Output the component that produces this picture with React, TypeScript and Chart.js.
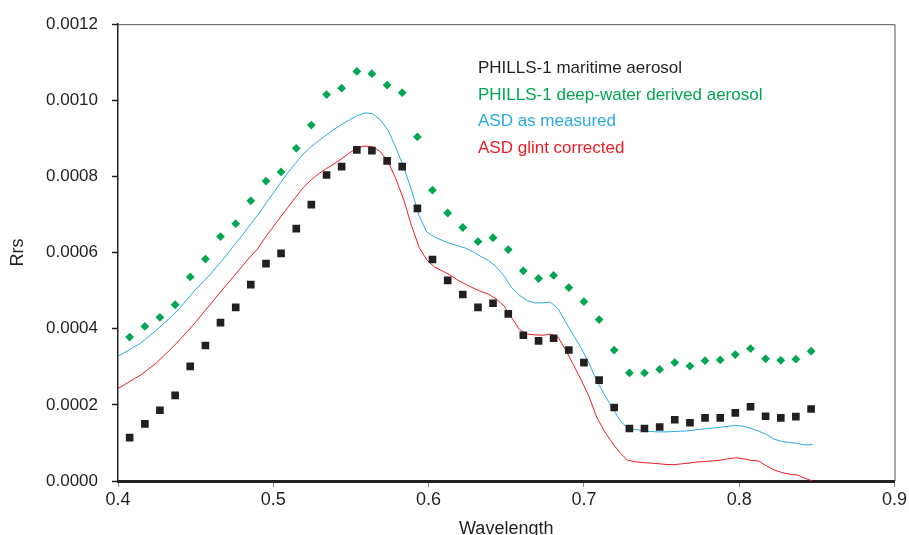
import React, { useEffect, useRef } from "react";
import { Chart, registerables } from "chart.js";

Chart.register(...registerables);

// PHILLS-1 band centres (µm)
const phillsWavelengths = [
  0.4075, 0.4173, 0.4270, 0.4368, 0.4465, 0.4563, 0.4660, 0.4758, 0.4855, 0.4953,
  0.5050, 0.5148, 0.5245, 0.5343, 0.5440, 0.5538, 0.5635, 0.5733, 0.5830, 0.5928,
  0.6025, 0.6123, 0.6220, 0.6318, 0.6415, 0.6513, 0.6610, 0.6708, 0.6805, 0.6903,
  0.7000, 0.7098, 0.7195, 0.7293, 0.7390, 0.7488, 0.7585, 0.7683, 0.7780, 0.7878,
  0.7975, 0.8073, 0.8170, 0.8268, 0.8365, 0.8463,
];

const maritimeAerosol = [
  0.000114, 0.000150, 0.000186, 0.000225, 0.000301, 0.000356, 0.000416, 0.000456, 0.000516, 0.000571,
  0.000598, 0.000663, 0.000726, 0.000804, 0.000826, 0.000870, 0.000868, 0.000841, 0.000826, 0.000716,
  0.000582, 0.000527, 0.000490, 0.000456, 0.000467, 0.000439, 0.000383, 0.000368, 0.000375, 0.000344,
  0.000311, 0.000265, 0.000193, 0.000138, 0.000138, 0.000142, 0.000161, 0.000153, 0.000166, 0.000166,
  0.000179, 0.000195, 0.000170, 0.000166, 0.000169, 0.000189,
];

const deepWaterAerosol = [
  0.000378, 0.000406, 0.000430, 0.000463, 0.000536, 0.000583, 0.000642, 0.000676, 0.000736, 0.000788,
  0.000812, 0.000874, 0.000935, 0.001015, 0.001032, 0.001076, 0.001070, 0.001040, 0.001020, 0.000904,
  0.000764, 0.000704, 0.000666, 0.000629, 0.000639, 0.000608, 0.000552, 0.000532, 0.000540, 0.000508,
  0.000471, 0.000424, 0.000344, 0.000284, 0.000284, 0.000293, 0.000311, 0.000302, 0.000316, 0.000318,
  0.000332, 0.000348, 0.000321, 0.000317, 0.000320, 0.000341,
];

// ASD spectra wavelengths (µm)
const asdWavelengths = [
  0.4000, 0.4050, 0.4099, 0.4149, 0.4199, 0.4249, 0.4298, 0.4348, 0.4398, 0.4447,
  0.4497, 0.4547, 0.4597, 0.4646, 0.4696, 0.4746, 0.4795, 0.4845, 0.4895, 0.4945,
  0.4994, 0.5044, 0.5094, 0.5143, 0.5193, 0.5243, 0.5292, 0.5342, 0.5392, 0.5442,
  0.5491, 0.5541, 0.5591, 0.5640, 0.5690, 0.5740, 0.5790, 0.5839, 0.5889, 0.5939,
  0.5988, 0.6038, 0.6088, 0.6138, 0.6187, 0.6237, 0.6287, 0.6336, 0.6386, 0.6436,
  0.6486, 0.6535, 0.6585, 0.6635, 0.6684, 0.6734, 0.6784, 0.6833, 0.6883, 0.6933,
  0.6983, 0.7032, 0.7082, 0.7132, 0.7181, 0.7231, 0.7281, 0.7331, 0.7380, 0.7430,
  0.7480, 0.7529, 0.7579, 0.7629, 0.7679, 0.7728, 0.7778, 0.7828, 0.7877, 0.7927,
  0.7977, 0.8026, 0.8076, 0.8126, 0.8176, 0.8225, 0.8275, 0.8325, 0.8374, 0.8424,
  0.8474,
];

const asdMeasured = [
  0.000328, 0.000339, 0.000351, 0.000363, 0.000380, 0.000397, 0.000415, 0.000434, 0.000454, 0.000478,
  0.000502, 0.000523, 0.000544, 0.000568, 0.000592, 0.000619, 0.000643, 0.000670, 0.000696, 0.000725,
  0.000753, 0.000782, 0.000810, 0.000835, 0.000859, 0.000878, 0.000894, 0.000909, 0.000924, 0.000937,
  0.000949, 0.000960, 0.000967, 0.000965, 0.000948, 0.000921, 0.000875, 0.000825, 0.000766, 0.000697,
  0.000654, 0.000641, 0.000632, 0.000624, 0.000618, 0.000612, 0.000602, 0.000590, 0.000579, 0.000563,
  0.000538, 0.000508, 0.000488, 0.000474, 0.000468, 0.000468, 0.000470, 0.000453, 0.000417, 0.000383,
  0.000349, 0.000310, 0.000263, 0.000227, 0.000193, 0.000161, 0.000138, 0.000135, 0.000132, 0.000130,
  0.000129, 0.000129, 0.000130, 0.000131, 0.000132, 0.000135, 0.000137, 0.000139, 0.000141, 0.000144,
  0.000146, 0.000144, 0.000138, 0.000131, 0.000122, 0.000110, 0.000104, 0.000101, 0.000099, 0.0000945,
  0.0000958,
];

const asdGlintCorrected = [
  0.000243, 0.000255, 0.000267, 0.000279, 0.000295, 0.000311, 0.000330, 0.000350, 0.000371, 0.000393,
  0.000416, 0.000441, 0.000465, 0.000490, 0.000514, 0.000538, 0.000562, 0.000586, 0.000608, 0.000638,
  0.000665, 0.000692, 0.000719, 0.000745, 0.000771, 0.000791, 0.000807, 0.000821, 0.000833, 0.000847,
  0.000862, 0.000875, 0.000880, 0.000878, 0.000865, 0.000838, 0.000793, 0.000740, 0.000672, 0.000614,
  0.000581, 0.000562, 0.000552, 0.000541, 0.000528, 0.000517, 0.000507, 0.000498, 0.000491, 0.000478,
  0.000460, 0.000429, 0.000398, 0.000386, 0.000384, 0.000383, 0.000386, 0.000378, 0.000344, 0.000305,
  0.000265, 0.000223, 0.000168, 0.000131, 0.000101, 0.0000749, 0.0000545, 0.0000505, 0.0000484, 0.0000471,
  0.0000455, 0.0000435, 0.0000429, 0.0000450, 0.0000471, 0.0000500, 0.0000510, 0.0000526, 0.0000547, 0.0000581,
  0.0000610, 0.0000584, 0.0000542, 0.0000526, 0.0000395, 0.0000290, 0.0000223, 0.0000178, 0.0000157, 0.0000068,
  0.0000000,
];

const seriesLabels = [
  "PHILLS-1 maritime aerosol",
  "PHILLS-1 deep-water derived aerosol",
  "ASD as measured",
  "ASD glint corrected",
];

const FONT = '"Liberation Sans", Arial, Helvetica, sans-serif';
const INK = "#231f20";
const GREEN = "#00a651";
const BLUE = "#29abe2";
const RED = "#ed1c24";
const legendColors = [INK, GREEN, BLUE, RED];

const inlineLegend = {
  id: "inlineLegend",
  afterDraw(chart: any) {
    const { ctx, chartArea } = chart;
    ctx.save();
    ctx.font = `17px ${FONT}`;
    ctx.textAlign = "left";
    ctx.textBaseline = "middle";
    seriesLabels.forEach((label, i) => {
      ctx.fillStyle = legendColors[i];
      ctx.fillText(label, chartArea.left + 360, chartArea.top + 44 + i * 26.8);
    });
    ctx.restore();
  },
};

const frame = {
  id: "frame",
  beforeDatasetsDraw(chart: any) {
    const { ctx, chartArea } = chart;
    ctx.save();
    ctx.strokeStyle = "#555";
    ctx.lineWidth = 1;
    ctx.beginPath();
    ctx.moveTo(chartArea.left, chartArea.top + 0.5);
    ctx.lineTo(chartArea.right + 0.5, chartArea.top + 0.5);
    ctx.lineTo(chartArea.right + 0.5, chartArea.bottom);
    ctx.stroke();
    ctx.restore();
  },
};

export default function App() {
  const canvasRef = useRef<HTMLCanvasElement | null>(null);

  useEffect(() => {
    if (!canvasRef.current) return;
    const pts = (xs: number[], ys: number[]) => xs.map((x, i) => ({ x, y: ys[i] }));
    const chart = new Chart(canvasRef.current, {
      type: "scatter",
      data: {
        datasets: [
          {
            label: seriesLabels[0],
            data: pts(phillsWavelengths, maritimeAerosol),
            pointStyle: "rect",
            pointRadius: 5.4,
            backgroundColor: INK,
            borderWidth: 0,
          },
          {
            label: seriesLabels[1],
            data: pts(phillsWavelengths, deepWaterAerosol),
            pointStyle: "rectRot",
            pointRadius: 4.4,
            backgroundColor: GREEN,
            borderWidth: 0,
          },
          {
            label: seriesLabels[2],
            data: pts(asdWavelengths, asdMeasured),
            showLine: true,
            pointRadius: 0,
            borderColor: BLUE,
            borderWidth: 1,
            tension: 0,
          },
          {
            label: seriesLabels[3],
            data: pts(asdWavelengths, asdGlintCorrected),
            showLine: true,
            pointRadius: 0,
            borderColor: RED,
            borderWidth: 1,
            tension: 0,
          },
        ],
      } as any,
      options: {
        responsive: false,
        animation: false,
        devicePixelRatio: 1,
        layout: { padding: { top: 23, right: 11, bottom: 0, left: 0 } },
        plugins: { legend: { display: false }, tooltip: { enabled: false } },
        scales: {
          x: {
            type: "linear",
            min: 0.4,
            max: 0.9,
            ticks: {
              stepSize: 0.1,
              callback: (v: any) => Number(v).toFixed(1),
              color: INK,
              font: { family: FONT, size: 18 },
              padding: 2,
            },
            grid: { drawOnChartArea: false, drawTicks: true, tickLength: 6, color: "#888" },
            border: { display: true, color: INK, width: 3 },
            title: {
              display: true,
              text: "Wavelength",
              color: INK,
              font: { family: FONT, size: 18, lineHeight: 1 },
              padding: { top: 0, bottom: -3 },
            },
            afterFit: (s: any) => {
              s.height = 54;
            },
          },
          y: {
            min: 0,
            max: 0.0012,
            ticks: {
              stepSize: 0.0002,
              callback: (v: any) => Number(v).toFixed(4),
              color: INK,
              font: { family: FONT, size: 17 },
              padding: 14,
            },
            grid: { drawOnChartArea: false, drawTicks: true, tickLength: 6, color: INK, tickWidth: 1.5 },
            border: { display: true, color: INK, width: 1.5 },
            title: {
              display: true,
              text: "Rrs",
              color: INK,
              font: { family: FONT, size: 18, lineHeight: 1 },
              padding: { top: 9, bottom: 0 },
            },
            afterFit: (s: any) => {
              s.width = 118;
            },
          },
        },
      } as any,
      plugins: [frame, inlineLegend],
    });
    return () => chart.destroy();
  }, []);

  return (
    <div style={{ position: "fixed", left: 0, top: 0, width: 909, height: 535, background: "#fff" }}>
      <canvas ref={canvasRef} width={909} height={535} style={{ width: 909, height: 535, display: "block" }} />
    </div>
  );
}
